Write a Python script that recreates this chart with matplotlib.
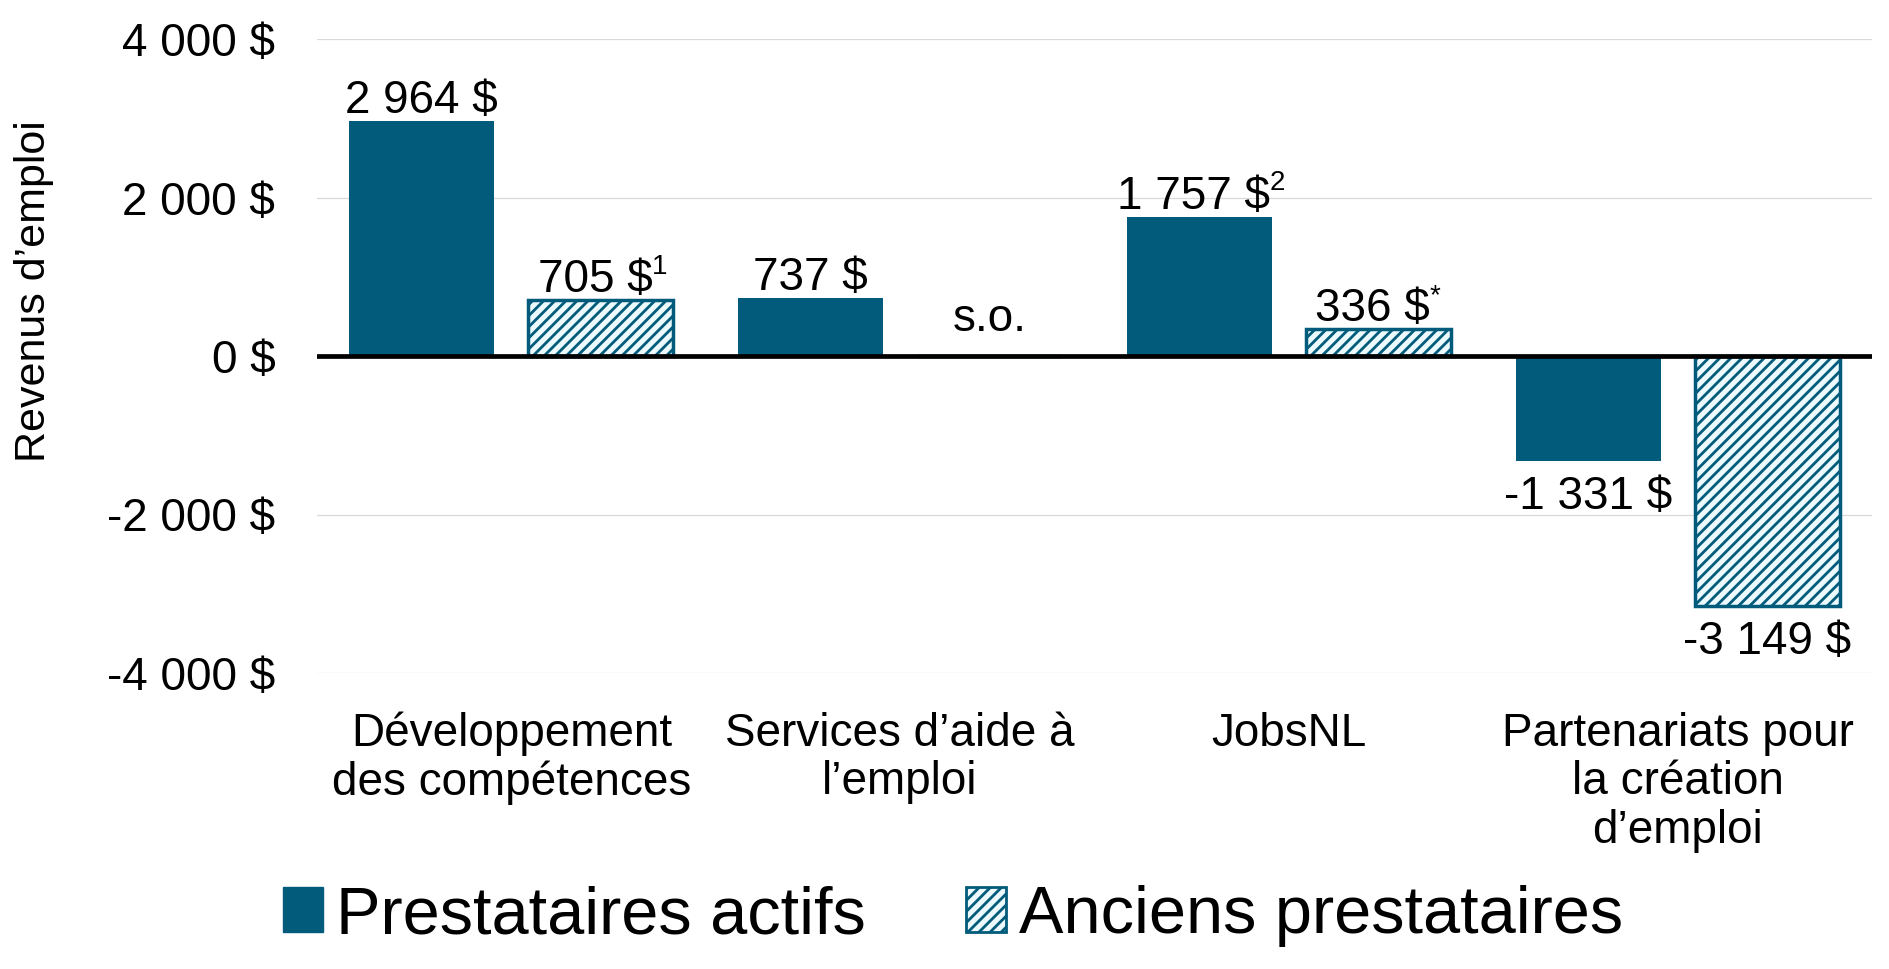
import matplotlib
matplotlib.use("Agg")
import matplotlib.pyplot as plt
import numpy as np
from matplotlib.patches import Patch

# ---- data ----
categories = ["Développement\ndes compétences", "Services d\u2019aide à\nl\u2019emploi",
              "JobsNL", "Partenariats pour\nla création\nd\u2019emploi"]
active = [2964, 737, 1757, -1331]
former = [705, None, 336, -3149]
active_labels = ["2 964 $", "737 $", "1 757 $", "-1 331 $"]
active_marks = ["", "", "2", ""]
former_labels = ["705 $", "s.o.", "336 $", "-3 149 $"]
former_marks = ["1", "", "*", ""]
yticks = [-4000, -2000, 0, 2000, 4000]
ytick_labels = ["-4 000 $", "-2 000 $", "0 $", "2 000 $", "4 000 $"]
series_names = ["Prestataires actifs", "Anciens prestataires"]
ylabel = "Revenus d\u2019emploi"

# ---- style ----
plt.rcParams['font.family'] = ['Liberation Sans', 'DejaVu Sans']
plt.rcParams['hatch.linewidth'] = 2.0
teal = '#025B7A'
hatch_face = '#ecfafd'
fs = 33

fig = plt.figure(figsize=(18.9, 9.69), dpi=100)
L, R = 317/1890, 1872/1890
T, B = 1 - 39/969, 1 - 673/969
ax = fig.add_axes([L, B, R - L, T - B])

x = np.arange(len(categories))
w = 0.373
off = w/2 + 0.044

act_vals = np.array(active, dtype=float)
for_vals = np.array([np.nan if v is None else v for v in former], dtype=float)

ax.bar(x - off, act_vals, w, color=teal, edgecolor=teal, linewidth=0, zorder=3)
ax.bar(x + off, np.nan_to_num(for_vals), w, facecolor=hatch_face, edgecolor=teal,
       hatch='///', linewidth=2.5, zorder=3)

ax.set_xlim(-0.5, len(categories) - 0.5)
ax.set_ylim(-4000, 4000)
ax.set_yticks(yticks)
ax.set_yticklabels(ytick_labels, fontsize=fs)
ax.set_xticks(x)
ax.set_xticklabels(categories, fontsize=fs, linespacing=1.13)
ax.tick_params(axis='both', length=0)
ax.tick_params(axis='y', pad=30)
ax.tick_params(axis='x', pad=28)
for s in ax.spines.values():
    s.set_visible(False)
ax.yaxis.grid(True, color='#d9d9d9', linewidth=0.9, zorder=0)
ax.set_axisbelow(True)
ax.axhline(0, color='black', linewidth=3.4, zorder=4)

px = 0.72  # points per pixel at dpi 100

def label(xpos, val, txt, mark=""):
    shift = -6*px if mark else 0
    if val >= 0:
        t = ax.annotate(txt, (xpos, val), xytext=(shift, 8*px), textcoords='offset points',
                        ha='center', va='baseline', fontsize=fs, zorder=5)
    else:
        t = ax.annotate(txt, (xpos, val), xytext=(shift, -48*px), textcoords='offset points',
                        ha='center', va='baseline', fontsize=fs, zorder=5)
    if mark:
        ax.annotate(mark, xy=(1, 1.1), xycoords=t, ha='left', va='top',
                    fontsize=20, zorder=5)

for i in range(len(categories)):
    label(x[i] - off, active[i], active_labels[i], active_marks[i])
    if former[i] is None:
        ax.annotate(former_labels[i], (x[i] + off, 0), xytext=(0, 25*px),
                    textcoords='offset points', ha='center', va='baseline', fontsize=fs)
    else:
        label(x[i] + off, former[i], former_labels[i], former_marks[i])

fig.text(34/1890, 1 - 291/969, ylabel, rotation=90, ha='center', va='center', fontsize=31)

handles = [Patch(facecolor=teal, edgecolor=teal),
           Patch(facecolor=hatch_face, edgecolor=teal, hatch='///', linewidth=2)]
fig.legend(handles, series_names, loc='center', bbox_to_anchor=(953/1890, 1 - 916/969),
           ncol=2, frameon=False, fontsize=48, handlelength=0.6, handleheight=0.66,
           handletextpad=0.2, columnspacing=1.5, borderaxespad=0, borderpad=0)

fig.savefig("out.png", dpi=100, facecolor='white')
